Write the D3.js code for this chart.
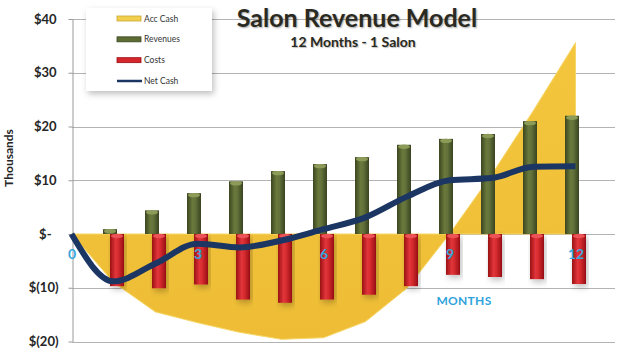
<!DOCTYPE html>
<html lang="en">
<head>
    <meta charset="UTF-8">
    <script src="https://d3js.org/d3.v7.min.js"></script>
    <title>Salon Revenue Model</title>
    <style>
        body { margin: 0; background: #fff; }
        text { font-family: Lato, "Open Sans", sans-serif; }
    </style>
</head>
<body>

    <div id="chart"></div>

    <script>
        // values, in thousands of dollars
        let months = [0, 1, 2, 3, 4, 5, 6, 7, 8, 9, 10, 11, 12];
        let barMonths = [1, 2, 3, 4, 5, 6, 7, 8, 9, 10, 11, 12];
        let revenues = [0.9, 4.4, 7.6, 9.8, 11.7, 13.0, 14.3, 16.6, 17.7, 18.6, 21.0, 22.0];
        let costs = [-9.7, -10.1, -9.4, -12.2, -12.8, -12.2, -11.3, -9.7, -7.6, -8.0, -8.4, -9.3];
        let netCash = [0, -8.8, -5.5, -1.8, -2.5, -1.2, 0.9, 3.1, 7.0, 10.0, 10.4, 12.5, 12.6];
        let accCash = [0, -9.0, -14.5, -16.5, -18.3, -19.6, -19.3, -16.3, -10.0, 0, 11.0, 23.0, 35.6];
        let yTicks = [-20, -10, 0, 10, 20, 30, 40];
        let xTicks = [0, 3, 6, 9, 12];
        let legendNames = ["Acc Cash", "Revenues", "Costs", "Net Cash"];

        let width = 618, height = 352;

        let svg = d3.select("#chart")
            .append("svg")
            .attr("width", width)
            .attr("height", height);

        let defs = svg.append("defs");

        // horizontal gradients give the bars their round look
        let cylinder = function (id, stops) {
            let g = defs.append("linearGradient").attr("id", id)
                .attr("x1", "0%").attr("x2", "100%").attr("y1", "0%").attr("y2", "0%");
            stops.forEach(function (s) {
                g.append("stop").attr("offset", s[0]).attr("stop-color", s[1]);
            });
        };
        cylinder("gGreen", [["0%", "#3b4520"], ["40%", "#6a7a3c"], ["60%", "#62723a"], ["100%", "#394320"]]);
        cylinder("gRed", [["0%", "#9a0f14"], ["40%", "#e1363b"], ["60%", "#d52a2f"], ["100%", "#960e13"]]);

        let areaGrad = defs.append("linearGradient").attr("id", "gYellow")
            .attr("x1", "0%").attr("x2", "0%").attr("y1", "0%").attr("y2", "100%");
        areaGrad.append("stop").attr("offset", "0%").attr("stop-color", "#f3c63e");
        areaGrad.append("stop").attr("offset", "100%").attr("stop-color", "#eebd35");

        let shadow = defs.append("filter").attr("id", "shadow")
            .attr("x", "-10%").attr("y", "-10%").attr("width", "130%").attr("height", "140%");
        shadow.append("feDropShadow").attr("dx", 2).attr("dy", 3).attr("stdDeviation", 3)
            .attr("flood-color", "#000").attr("flood-opacity", 0.25);

        // scales
        let x = d3.scaleLinear().domain([0, 12]).range([71.5, 575.5]);
        let y = d3.scaleLinear().domain([-20, 40]).range([341.5, 19]);
        let barW = 14;

        // grid lines
        svg.append("g")
            .selectAll("line")
            .data(yTicks)
            .enter()
            .append("line")
            .attr("x1", 72).attr("x2", 615)
            .attr("y1", function (d) { return Math.round(y(d)) + 0.5; })
            .attr("y2", function (d) { return Math.round(y(d)) + 0.5; })
            .attr("stroke", "#b3b3b3")
            .attr("stroke-width", 1);

        // Y axis
        let money = function (d) {
            if (d === 0) return "$-";
            if (d < 0) return "$(" + (-d) + ")";
            return "$" + d;
        };
        let yAxis = svg.append("g")
            .attr("transform", "translate(72.5,0)")
            .call(d3.axisLeft(y).tickValues(yTicks).tickSize(4).tickSizeOuter(0).tickPadding(12).tickFormat(money));
        yAxis.select(".domain").attr("stroke", "#9a9a9a");
        yAxis.selectAll(".tick line").attr("stroke", "#9a9a9a");
        yAxis.selectAll(".tick text")
            .style("font-family", "Lato, sans-serif")
            .style("font-size", "13px")
            .style("font-weight", "bold")
            .attr("fill", "#262626")
            .attr("dx", function (d) { return d < 0 ? 2 : (d === 0 ? -5 : 0); });

        svg.append("text")
            .attr("transform", "translate(13,158) rotate(-90)")
            .attr("text-anchor", "middle")
            .style("font-size", "12px")
            .style("font-weight", "bold")
            .attr("fill", "#262626")
            .text("Thousands");

        // Acc Cash area
        let area = d3.area()
            .x(function (d, i) { return x(months[i]); })
            .y0(y(0))
            .y1(function (d) { return y(d); });
        svg.append("path")
            .datum(accCash)
            .attr("d", area)
            .attr("fill", "url(#gYellow)")
            .attr("stroke", "#f7d769")
            .attr("stroke-width", 1);

        // Revenues bars
        let green = svg.append("g");
        green.selectAll("rect")
            .data(revenues)
            .enter()
            .append("rect")
            .attr("x", function (d, i) { return x(barMonths[i]) - 3.5 - barW / 2; })
            .attr("y", function (d) { return y(d); })
            .attr("width", barW)
            .attr("height", function (d) { return y(0) - y(d); })
            .attr("fill", "url(#gGreen)");
        green.selectAll("ellipse")
            .data(revenues)
            .enter()
            .append("ellipse")
            .attr("cx", function (d, i) { return x(barMonths[i]) - 3.5; })
            .attr("cy", function (d) { return y(d) + 2; })
            .attr("rx", barW / 2 - 1)
            .attr("ry", 2.2)
            .attr("fill", "#8c9c58");

        // Costs bars
        let red = svg.append("g");
        red.selectAll("rect")
            .data(costs)
            .enter()
            .append("rect")
            .attr("x", function (d, i) { return x(barMonths[i]) + 3.5 - barW / 2; })
            .attr("y", y(0))
            .attr("width", barW)
            .attr("height", function (d) { return y(d) - y(0); })
            .attr("fill", "url(#gRed)")
            .attr("filter", "url(#shadow)");
        red.selectAll("ellipse")
            .data(costs)
            .enter()
            .append("ellipse")
            .attr("cx", function (d, i) { return x(barMonths[i]) + 3.5; })
            .attr("cy", y(0) + 2)
            .attr("rx", barW / 2 - 1)
            .attr("ry", 2.2)
            .attr("fill", "#ec5357");

        // Net Cash line
        let line = d3.line()
            .x(function (d, i) { return x(months[i]); })
            .y(function (d) { return y(d); })
            .curve(d3.curveMonotoneX);
        svg.append("path")
            .datum(netCash)
            .attr("d", line)
            .attr("fill", "none")
            .attr("stroke", "#1c3664")
            .attr("stroke-width", 6)
            .attr("stroke-linejoin", "round");

        // month labels
        svg.append("g")
            .selectAll("text")
            .data(xTicks)
            .enter()
            .append("text")
            .attr("x", function (d) { return x(d) + 0.5; })
            .attr("y", 259)
            .attr("text-anchor", "middle")
            .style("font-size", "14px")
            .style("font-weight", "bold")
            .attr("fill", "#38a7de")
            .text(function (d) { return d; });

        svg.append("text")
            .attr("x", 464)
            .attr("y", 305)
            .attr("text-anchor", "middle")
            .style("font-size", "12px")
            .style("font-weight", "bold")
            .style("letter-spacing", "0.3px")
            .attr("fill", "#2fa3dc")
            .text("MONTHS");

        // title
        svg.append("text")
            .attr("x", 357)
            .attr("y", 27)
            .attr("text-anchor", "middle")
            .style("font-size", "25px")
            .style("font-weight", "bold")
            .style("text-shadow", "1px 1px 2px rgba(0,0,0,0.35)")
            .attr("fill", "#2a2a22")
            .text("Salon Revenue Model");
        svg.append("text")
            .attr("x", 353)
            .attr("y", 47)
            .attr("text-anchor", "middle")
            .style("font-size", "14px")
            .style("font-weight", "bold")
            .style("text-shadow", "1px 1px 1px rgba(0,0,0,0.25)")
            .attr("fill", "#2a2a22")
            .text("12 Months - 1 Salon");

        // legend
        let legend = svg.append("g");
        legend.append("rect")
            .attr("x", 86).attr("y", 8)
            .attr("width", 126).attr("height", 83)
            .attr("fill", "#fff")
            .attr("filter", "url(#shadow)");

        let legendFill = ["#f3cf4e", "#5d6c33", "#d4262b", null];
        let legendEdge = ["#c9a530", "#3b4520", "#9a0f14", null];
        let rowY = d3.scalePoint().domain(legendNames).range([18.5, 81]);

        legendNames.forEach(function (name, i) {
            if (legendFill[i]) {
                legend.append("rect")
                    .attr("x", 117).attr("y", rowY(name) - 2.5)
                    .attr("width", 24).attr("height", 5)
                    .attr("fill", legendFill[i])
                    .attr("stroke", legendEdge[i])
                    .attr("stroke-width", 0.8);
            } else {
                legend.append("line")
                    .attr("x1", 117).attr("x2", 142)
                    .attr("y1", rowY(name)).attr("y2", rowY(name))
                    .attr("stroke", "#1c3664")
                    .attr("stroke-width", 2.5);
            }
            legend.append("text")
                .attr("x", 144)
                .attr("y", rowY(name) + 3)
                .style("font-size", "8.5px")
                .attr("fill", "#333")
                .text(name);
        });
    </script>

</body>
</html>
